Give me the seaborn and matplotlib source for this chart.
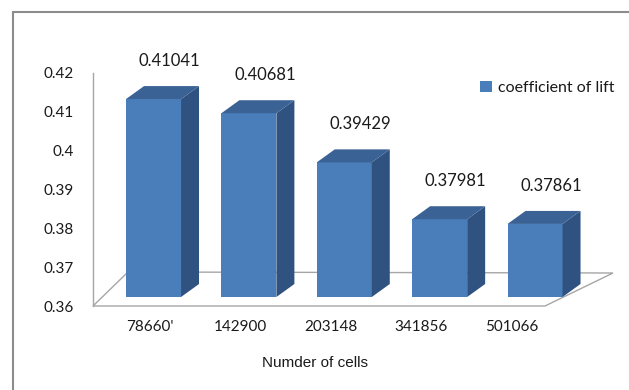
import matplotlib
matplotlib.use("Agg")
import matplotlib.pyplot as plt
import pandas as pd
import seaborn as sns
from matplotlib.patches import Polygon, Patch
from matplotlib.lines import Line2D
from matplotlib.transforms import Affine2D, IdentityTransform

# ---- data ----
cells = ["78660'", "142900", "203148", "341856", "501066"]
lift = [0.41041, 0.40681, 0.39429, 0.37981, 0.37861]
y_ticks = [0.36, 0.37, 0.38, 0.39, 0.40, 0.41, 0.42]
y_tick_labels = ["0.36", "0.37", "0.38", "0.39", "0.4", "0.41", "0.42"]
series_name = "coefficient of lift"
x_title = "Numder of cells"

# ---- style ----
FRONT = "#4a7ebb"
TOP = "#3b6295"
SIDE = "#2f5281"
LINE = "#a6a6a6"
TEXT = "#1a1a1a"
BASE = 0.36

sns.set_theme(style="white")
plt.rcParams["font.family"] = ["Lato", "DejaVu Sans"]

W, H = 629, 390
fig = plt.figure(figsize=(W / 100, H / 100), dpi=100)
ax = fig.add_axes([93 / W, (H - 306) / H, 452 / W, 233 / H])

df = pd.DataFrame({"cells": cells, "lift": lift})
sns.barplot(data=df, x="cells", y="lift", color=FRONT, width=0.577,
            saturation=1, ax=ax, zorder=3)

ax.set_xlim(-0.630, 4.365)
ax.set_ylim(BASE, 0.42)

# bars start at the floor value instead of zero
for p in ax.patches:
    top = p.get_y() + p.get_height()
    p.set_y(BASE)
    p.set_height(top - BASE)

# the bar plane sits a little behind the front (axis) plane
x0d, y0d = ax.transData.transform((0, BASE))
depth_shift = (Affine2D().translate(-x0d, -y0d).scale(1.054, 1.011)
               .translate(x0d + 3.5, y0d + 9))
bar_tr = ax.transData + depth_shift

DX, DY = 18, 13  # bar depth in pixels
for p, v in zip(ax.patches, lift):
    p.set_transform(bar_tr)
    p.set_clip_on(False)
    p.set_edgecolor("none")
    (xl, yb), (xr, yt) = bar_tr.transform(
        [(p.get_x(), p.get_y()), (p.get_x() + p.get_width(), p.get_y() + p.get_height())])
    side = Polygon([(xr, yb), (xr + DX, yb + DY), (xr + DX, yt + DY), (xr, yt)],
                   closed=True, facecolor=SIDE, edgecolor="none",
                   transform=IdentityTransform(), clip_on=False, zorder=3)
    top = Polygon([(xl, yt), (xr, yt), (xr + DX, yt + DY), (xl + DX, yt + DY)],
                  closed=True, facecolor=TOP, edgecolor="none",
                  transform=IdentityTransform(), clip_on=False, zorder=3)
    ax.add_patch(side)
    ax.add_patch(top)
    cx = (xl + xr) / 2
    ax.annotate(f"{v:.5f}", xy=(cx, yt + DY), xycoords="figure pixels",
                xytext=(11.5, 18), textcoords="offset points",
                ha="center", va="center", fontsize=12, color=TEXT)

# floor of the 3-D plot area
floor = Polygon([(0, 0), (1, 0), ((613 - 93) / 452, 33 / 233), ((128 - 93) / 452, 34 / 233)],
                closed=True, fill=False, edgecolor=LINE, lw=1.0,
                transform=ax.transAxes, clip_on=False, zorder=1)
ax.add_patch(floor)

for s in ["top", "right", "bottom"]:
    ax.spines[s].set_visible(False)
ax.spines["left"].set_color(LINE)
ax.spines["left"].set_linewidth(1.0)

ax.set_yticks(y_ticks, y_tick_labels)
ax.tick_params(axis="y", length=0, pad=14, labelsize=11, labelcolor=TEXT)
ax.tick_params(axis="x", length=0, pad=10, labelsize=11, labelcolor=TEXT)
ax.set_ylabel("")
ax.set_xlabel(x_title, fontsize=11, color=TEXT, family=["Liberation Sans", "DejaVu Sans"])
ax.xaxis.set_label_coords((315 - 93) / 452, -(356 - 306) / 233)
ax.patch.set_alpha(0)

fig.legend(handles=[Patch(facecolor=FRONT, edgecolor="none")], labels=[series_name],
           loc="center left", bbox_to_anchor=(480 / W, (H - 88) / H), frameon=False,
           borderpad=0, borderaxespad=0, handlelength=0.75, handleheight=0.75,
           handletextpad=0.35, fontsize=11.5, labelcolor=TEXT)

# chart frame (left and top edges)
fig.add_artist(Line2D([13 / W, 13 / W], [0, (H - 12) / H], color="#8c8c8c", lw=1.5,
                      transform=fig.transFigure))
fig.add_artist(Line2D([13 / W, 1], [(H - 12) / H, (H - 12) / H], color="#8c8c8c", lw=1.5,
                      transform=fig.transFigure))

fig.savefig("out.png", dpi=100)
